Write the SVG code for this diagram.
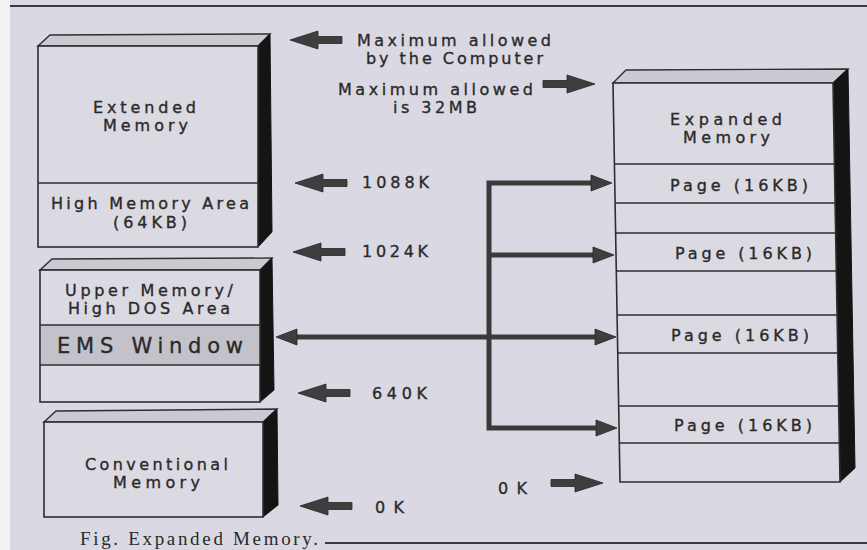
<svg xmlns="http://www.w3.org/2000/svg" xmlns:xlink="http://www.w3.org/1999/xlink" width="867" height="550" viewBox="0 0 867 550">
<style>
.t{font-family:"DejaVu Sans","Liberation Sans",sans-serif;font-size:16px;fill:#2a2a2a;stroke:#2a2a2a;stroke-width:0.35}
.big{font-size:21px}
.face{fill:#dbdae3;stroke:#2e2e2e;stroke-width:1.6}
.top{fill:#cbcad3;stroke:#2e2e2e;stroke-width:1.4}
.side{fill:#141414;stroke:#141414;stroke-width:1}
.div{stroke:#2e2e2e;stroke-width:1.6;fill:none}
.ems{fill:#c3c2cb}
.arr{fill:#3e3e3e;stroke:#262626;stroke-width:0.8}
.con{fill:none;stroke:#3a3a3a;stroke-width:5;stroke-linejoin:miter}
.cap{font-family:"Liberation Serif","DejaVu Serif",serif;font-size:19px;fill:#2a2a2a}
</style>
<defs>
<path id="arrowL" class="arr" d="M0,0 L28,-9 L28,-3.5 L52,-3.5 L52,3.5 L28,3.5 L28,9 Z"/>
<marker id="head" markerUnits="userSpaceOnUse" markerWidth="24" markerHeight="20" refX="0" refY="0" orient="auto-start-reverse" overflow="visible">
<path d="M-1,-8 L20,0 L-1,8 Z" fill="#3e3e3e" stroke="#262626" stroke-width="0.8"/>
</marker>
</defs>
<rect x="0" y="0" width="867" height="550" fill="#dad9e3"/>
<rect x="0" y="0" width="10" height="550" fill="#f3f3f5"/>
<line x1="10" y1="6" x2="867" y2="6" stroke="#3a3a3a" stroke-width="2"/>
<line x1="325" y1="543" x2="867" y2="543" stroke="#3a3a3a" stroke-width="1.8"/>

<g id="extended-memory">
<polygon class="top" points="38,46 50,35 270,34 258,46"/>
<polygon class="side" points="258,46 270,34 272,232 258,247"/>
<rect class="face" x="38" y="46" width="220" height="201"/>
<line class="div" x1="38" y1="183" x2="258" y2="183"/>
<text class="t" x="93" y="113" textLength="103">Extended</text>
<text class="t" x="103" y="131" textLength="85">Memory</text>
<text class="t" x="51" y="209" textLength="198">High Memory Area</text>
<text class="t" x="113" y="228" textLength="74">(64KB)</text>
</g>

<g id="upper-memory">
<polygon class="top" points="40,270 52,259 272,258 260,270"/>
<polygon class="side" points="260,270 272,258 274,390 260,402"/>
<rect class="face" x="40" y="270" width="220" height="132"/>
<rect class="ems" x="41" y="325" width="218" height="40"/>
<line class="div" x1="40" y1="325" x2="260" y2="325"/>
<line class="div" x1="40" y1="365" x2="260" y2="365"/>
<text class="t" x="65" y="296" textLength="168">Upper Memory/</text>
<text class="t" x="68" y="314" textLength="162">High DOS Area</text>
<text class="t big" x="57" y="353" textLength="186">EMS Window</text>
</g>

<g id="conventional-memory">
<polygon class="top" points="44,422 56,411 277,409 263,422"/>
<polygon class="side" points="263,422 277,409 278,505 263,517"/>
<rect class="face" x="44" y="422" width="219" height="95"/>
<text class="t" x="85" y="470" textLength="143">Conventional</text>
<text class="t" x="113" y="488" textLength="87">Memory</text>
</g>

<g id="expanded-memory">
<polygon class="top" points="613,83 626,70 848,69 833,83"/>
<polygon class="side" points="833,83 848,69 855,468 840,482"/>
<polygon class="face" points="613,83 833,83 840,482 620,482"/>
<line class="div" x1="614" y1="164" x2="834" y2="164"/>
<line class="div" x1="615" y1="203" x2="835" y2="203"/>
<line class="div" x1="615.5" y1="233" x2="835.5" y2="233"/>
<line class="div" x1="616" y1="271" x2="836" y2="271"/>
<line class="div" x1="617" y1="315" x2="837" y2="315"/>
<line class="div" x1="617.5" y1="353" x2="837.5" y2="353"/>
<line class="div" x1="618.5" y1="406" x2="838.5" y2="406"/>
<line class="div" x1="619" y1="443" x2="839" y2="443"/>
<text class="t" x="670" y="125" textLength="112">Expanded</text>
<text class="t" x="683" y="143" textLength="87">Memory</text>
<text class="t" x="670" y="191" textLength="138">Page (16KB)</text>
<text class="t" x="675" y="259" textLength="137">Page (16KB)</text>
<text class="t" x="671" y="341" textLength="138">Page (16KB)</text>
<text class="t" x="674" y="431" textLength="138">Page (16KB)</text>
</g>

<g id="labels">
<text class="t" x="357" y="46" textLength="194">Maximum allowed</text>
<text class="t" x="366" y="64" textLength="177">by the Computer</text>
<text class="t" x="338" y="95" textLength="195">Maximum allowed</text>
<text class="t" x="393" y="113" textLength="84">is 32MB</text>
<text class="t" x="362" y="188" textLength="67">1088K</text>
<text class="t" x="362" y="257" textLength="66">1024K</text>
<text class="t" x="372" y="399" textLength="55">640K</text>
<text class="t" x="375" y="513" textLength="29">0K</text>
<text class="t" x="498" y="494" textLength="29">0K</text>
</g>

<g id="connectors">
<use xlink:href="#arrowL" href="#arrowL" transform="translate(290,40)"/>
<use xlink:href="#arrowL" href="#arrowL" transform="translate(595,84) scale(-1,1)"/>
<use xlink:href="#arrowL" href="#arrowL" transform="translate(295,183)"/>
<use xlink:href="#arrowL" href="#arrowL" transform="translate(293,252)"/>
<use xlink:href="#arrowL" href="#arrowL" transform="translate(298,393)"/>
<use xlink:href="#arrowL" href="#arrowL" transform="translate(300,506)"/>
<use xlink:href="#arrowL" href="#arrowL" transform="translate(603,483) scale(-1,1)"/>
<path class="con" d="M592,183 H489 V428 H597" marker-start="url(#head)" marker-end="url(#head)"/>
<path class="con" d="M489,255 H594" marker-end="url(#head)"/>
<path class="con" d="M296,337 H596" marker-start="url(#head)" marker-end="url(#head)"/>
</g>

<text class="cap" x="80" y="545" textLength="238">Fig. Expanded Memory.</text>
</svg>
